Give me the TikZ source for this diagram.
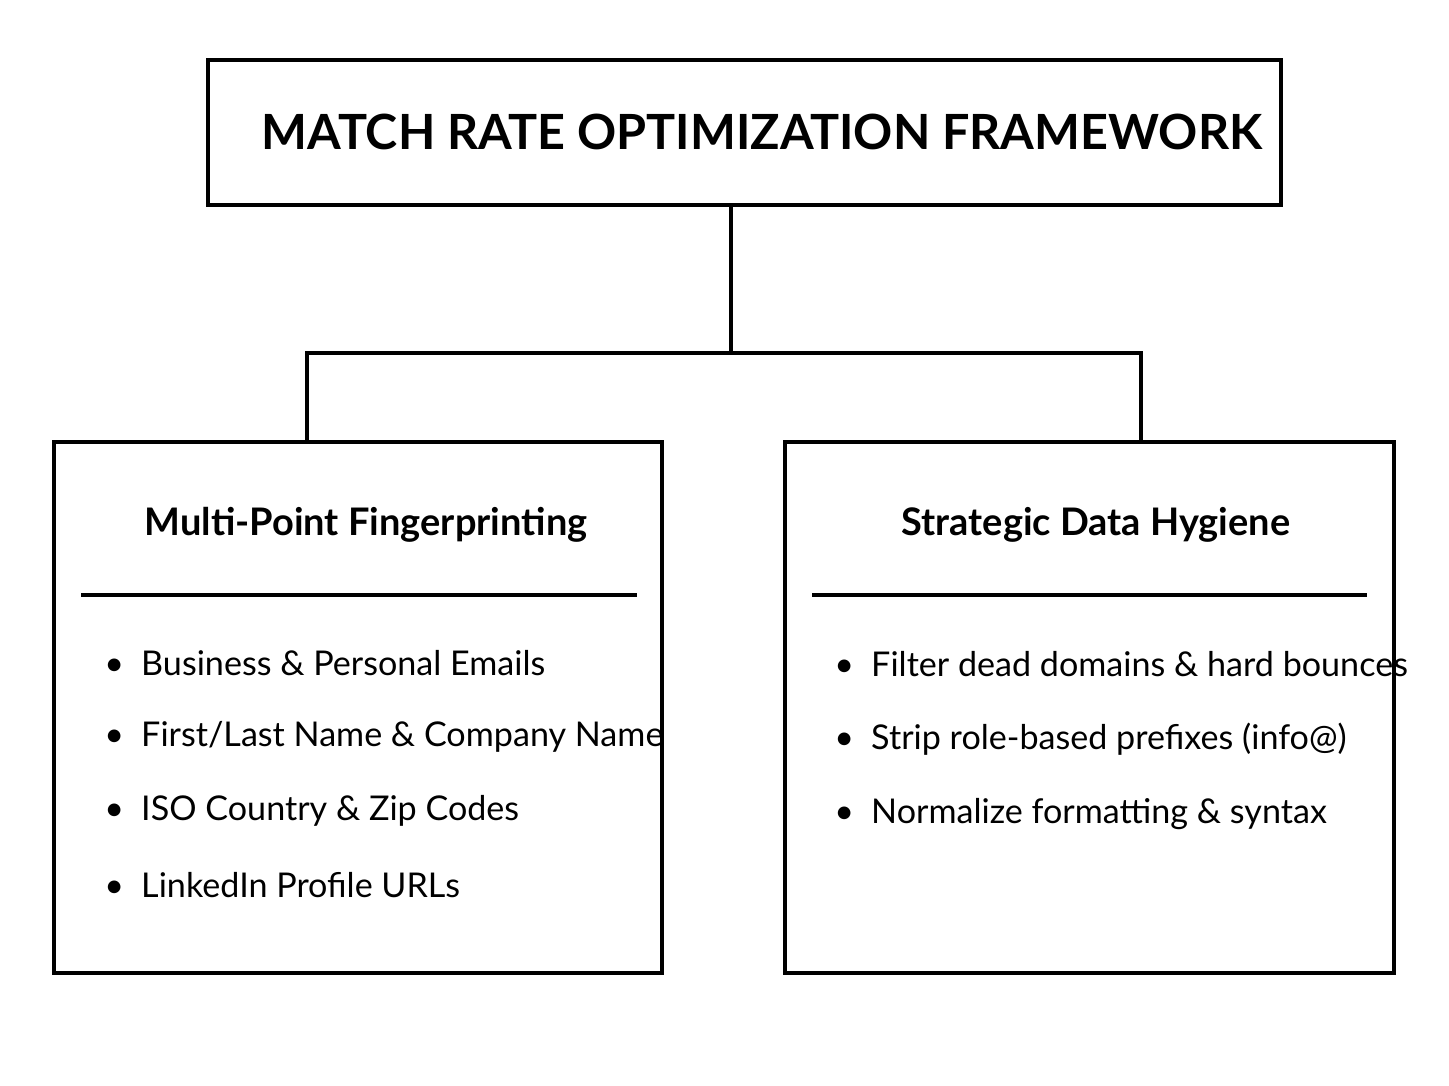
\documentclass[tikz,border=0pt]{standalone}
\usepackage{fontspec}
\setmainfont{Lato}
\usetikzlibrary{positioning}
\tikzset{
  frame/.style={draw, line width=1.1pt},
  link/.style={line width=1.1pt},
  head/.style={font=\bfseries\fontsize{10.8}{13}\selectfont},
  item/.style={anchor=west, font=\fontsize{9.7}{12}\selectfont}
}
\begin{document}
\begin{tikzpicture}[x=0.01cm,y=-0.01cm]
  \useasboundingbox (0,0) rectangle (1449,1086);

  % Title box
  \draw[frame] (208,60) rectangle (1281,205);
  \node[font=\bfseries\fontsize{13.8}{16}\selectfont] (title) at (762,132) {MATCH RATE OPTIMIZATION FRAMEWORK};

  % Connectors
  \coordinate (ttop) at (731,205);
  \coordinate (split) at (731,353);
  \coordinate (ltop) at (307,442);
  \coordinate (rtop) at (1141,442);
  \draw[link] (ttop) -- (split);
  \draw[link] (ltop) |- (split) -| (rtop);

  % Left box
  \draw[frame] (54,442) rectangle (662,973);
  \node[head] (lhead) at (366,525) {Multi-Point Fingerprinting};
  \draw[line width=0.9pt] (81,595) -- (637,595);
  \foreach \t [count=\i] in {Business \& Personal Emails,
      First/Last Name \& Company Name, ISO Country \& Zip Codes,
      LinkedIn Profile URLs}
    \node[item] (l\i) at (92,{663+74*(\i-1)}) {\textbullet\hspace{0.5em}\t};

  % Right box
  \draw[frame] (785,442) rectangle (1394,973);
  \node[head] (rhead) at (1096,525) {Strategic Data Hygiene};
  \draw[line width=0.9pt] (812,595) -- (1367,595);
  \foreach \t [count=\i] in {Filter dead domains \& hard bounces,
      Strip role-based prefixes (info@), Normalize formatting \& syntax}
    \node[item] (r\i) at (822,{664+75*(\i-1)}) {\textbullet\hspace{0.5em}\t};
\end{tikzpicture}
\end{document}
